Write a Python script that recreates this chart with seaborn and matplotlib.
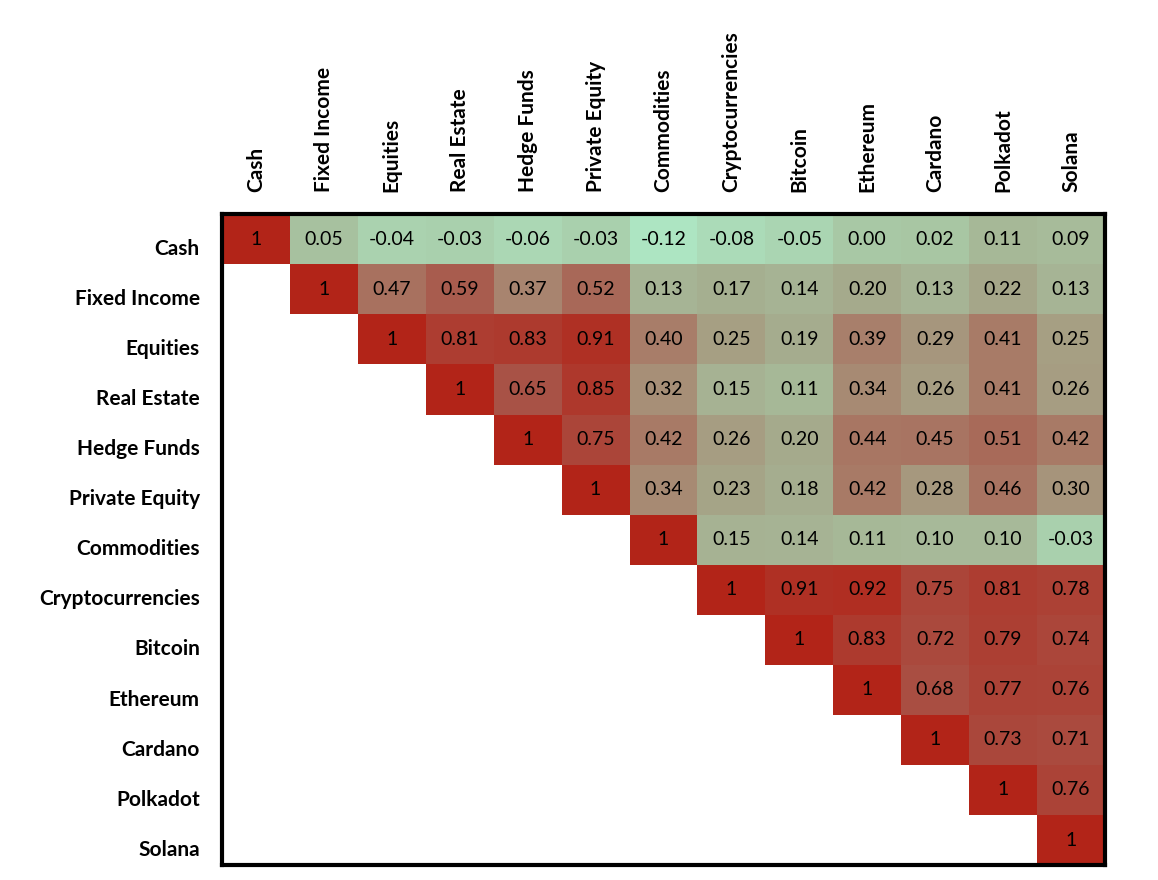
import numpy as np
import pandas as pd
import matplotlib
matplotlib.use("Agg")
import matplotlib.pyplot as plt
import matplotlib.transforms as mtrans
import seaborn as sns
from matplotlib.colors import LinearSegmentedColormap

activos = ["Cash", "Fixed Income", "Equities", "Real Estate", "Hedge Funds",
           "Private Equity", "Commodities", "Cryptocurrencies", "Bitcoin",
           "Ethereum", "Cardano", "Polkadot", "Solana"]

# triangulo superior, fila por fila (desde la diagonal)
fila_cash = [1, 0.05, -0.04, -0.03, -0.06, -0.03, -0.12, -0.08, -0.05, 0.00, 0.02, 0.11, 0.09]
fila_fixed = [1, 0.47, 0.59, 0.37, 0.52, 0.13, 0.17, 0.14, 0.20, 0.13, 0.22, 0.13]
fila_equities = [1, 0.81, 0.83, 0.91, 0.40, 0.25, 0.19, 0.39, 0.29, 0.41, 0.25]
fila_real = [1, 0.65, 0.85, 0.32, 0.15, 0.11, 0.34, 0.26, 0.41, 0.26]
fila_hedge = [1, 0.75, 0.42, 0.26, 0.20, 0.44, 0.45, 0.51, 0.42]
fila_private = [1, 0.34, 0.23, 0.18, 0.42, 0.28, 0.46, 0.30]
fila_commod = [1, 0.15, 0.14, 0.11, 0.10, 0.10, -0.03]
fila_crypto = [1, 0.91, 0.92, 0.75, 0.81, 0.78]
fila_bitcoin = [1, 0.83, 0.72, 0.79, 0.74]
fila_eth = [1, 0.68, 0.77, 0.76]
fila_cardano = [1, 0.73, 0.71]
fila_polkadot = [1, 0.76]
fila_solana = [1]

filas = [fila_cash, fila_fixed, fila_equities, fila_real, fila_hedge,
         fila_private, fila_commod, fila_crypto, fila_bitcoin, fila_eth,
         fila_cardano, fila_polkadot, fila_solana]

n = len(activos)
matriz = np.full((n, n), np.nan)
for i, fila in enumerate(filas):
    matriz[i, i:] = fila
corr = pd.DataFrame(matriz, index=activos, columns=activos)

etiquetas = np.empty((n, n), dtype=object)
for i in range(n):
    for j in range(n):
        if np.isnan(matriz[i, j]):
            etiquetas[i, j] = ""
        elif i == j:
            etiquetas[i, j] = "1"
        else:
            etiquetas[i, j] = f"{matriz[i, j]:.2f}"

mascara = np.tril(np.ones((n, n), dtype=bool), k=-1)

# escala de color tipo Excel (verde -> marron -> rojo)
vmin, vmax = -0.12, 1.0
nodos = [(-0.12, "#ADE5C2"), (0.0, "#A8C8A5"), (0.20, "#A5AA8C"),
         (0.40, "#A87D69"), (0.65, "#A85246"), (1.0, "#B22418")]
cmap = LinearSegmentedColormap.from_list(
    "verde_rojo", [((v - vmin) / (vmax - vmin), c) for v, c in nodos])

plt.rcParams["font.family"] = ["Lato", "DejaVu Sans"]

fig = plt.figure(figsize=(11.58, 8.8), dpi=100)
ax = fig.add_axes([0.1917, 0.017, 0.7625, 0.7395])

sns.heatmap(corr, mask=mascara, annot=etiquetas, fmt="", cmap=cmap,
            vmin=vmin, vmax=vmax, cbar=False, ax=ax,
            annot_kws={"fontsize": 14, "color": "black"})

ax.xaxis.tick_top()
ax.set_xticklabels(activos, rotation=90, fontsize=15, fontweight="bold")
ax.set_yticklabels(activos, rotation=0, fontsize=15, fontweight="bold")
ax.tick_params(length=0)
ax.tick_params(axis="y", pad=16)
ax.tick_params(axis="x", pad=16)
ax.set_xlabel("")
ax.set_ylabel("")

# las etiquetas de fila quedan un poco por debajo del centro de la celda
desplazar = mtrans.ScaledTranslation(0, -7 / 72, fig.dpi_scale_trans)
for etiqueta in ax.get_yticklabels():
    etiqueta.set_transform(etiqueta.get_transform() + desplazar)

for lado in ax.spines.values():
    lado.set_visible(True)
    lado.set_color("black")
    lado.set_linewidth(3)

fig.savefig("out.png", dpi=100, facecolor="white")
